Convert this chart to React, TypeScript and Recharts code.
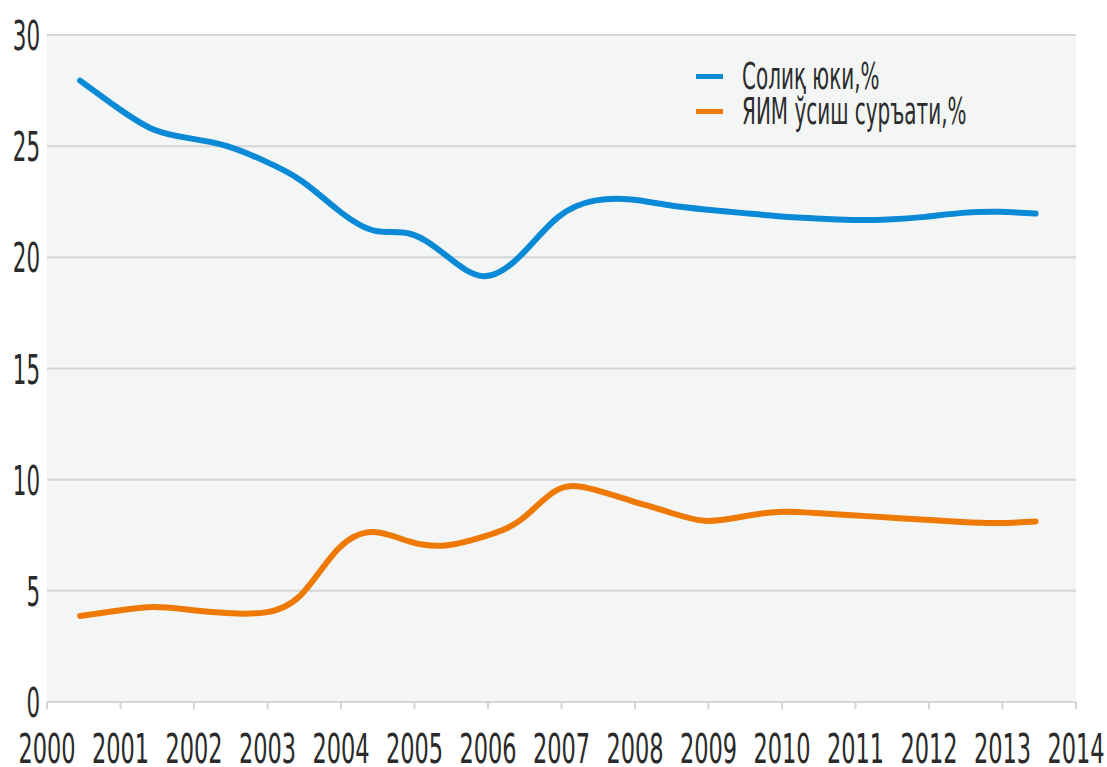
import React from 'react'
import { CartesianGrid, Line, LineChart, XAxis, YAxis } from 'recharts'

const yearPos = [
  2000.45, 2000.95, 2001.45, 2001.95, 2002.45, 2002.95, 2003.45, 2003.95, 2004.45,
  2004.95, 2005.45, 2005.95, 2006.45, 2006.95, 2007.45, 2007.95, 2008.45, 2008.95,
  2009.45, 2009.95, 2010.45, 2010.95, 2011.45, 2011.95, 2012.45, 2012.95, 2013.45,
]

// Солиқ юки, %
const taxBurden = [
  27.95, 26.75, 25.75, 25.35, 25.0, 24.35, 23.47, 22.15, 21.2,
  21.05, 20.03, 19.15, 20.1, 21.8, 22.55, 22.6, 22.35, 22.15,
  22.0, 21.85, 21.75, 21.68, 21.7, 21.82, 22.0, 22.05, 21.97,
]

// ЯИМ ўсиш суръати, %
const gdpGrowth = [
  3.87, 4.1, 4.27, 4.14, 4.0, 4.02, 4.8, 6.85, 7.65,
  7.2, 7.05, 7.45, 8.2, 9.55, 9.55, 9.05, 8.55, 8.15,
  8.33, 8.55, 8.5, 8.4, 8.3, 8.2, 8.1, 8.05, 8.12,
]

const yearTicks = [2000, 2001, 2002, 2003, 2004, 2005, 2006, 2007, 2008, 2009, 2010, 2011, 2012, 2013, 2014]
const valueTicks = [0, 5, 10, 15, 20, 25, 30]

const seriesNames = ['Солиқ юки,%', 'ЯИМ ўсиш суръати,%']
const colors = ['#0a8ad6', '#ee7a05']

const data = yearPos.map((x, i) => ({ x, tax: taxBurden[i], gdp: gdpGrowth[i] }))

const FONT = "'DejaVu Sans Condensed', 'DejaVu Sans', sans-serif"

const XTick = (props: any) => {
  const { x, y, payload } = props
  return (
    <g transform={`translate(${x},${y + 52}) scale(0.61,1)`}>
      <text textAnchor='middle' fontFamily={FONT} fontSize={41} fill='#2b2b2b'>
        {payload.value}
      </text>
    </g>
  )
}

const YTick = (props: any) => {
  const { y, payload } = props
  return (
    <g transform={`translate(40,${y + 15}) scale(0.58,1)`}>
      <text textAnchor='end' fontFamily={FONT} fontSize={41} fill='#2b2b2b'>
        {payload.value}
      </text>
    </g>
  )
}

const LegendBox = () => (
  <div style={{ position: 'absolute', left: 696, top: 59, width: 340, fontFamily: FONT, color: '#2b2b2b' }}>
    {seriesNames.map((name, i) => (
      <div key={name} style={{ display: 'flex', alignItems: 'center', height: 35 }}>
        <span style={{ display: 'inline-block', flex: '0 0 27px', height: 5, background: colors[i], marginRight: 19 }} />
        <span
          style={{
            fontSize: 37,
            lineHeight: '35px',
            display: 'inline-block',
            transform: 'scaleX(0.6)',
            transformOrigin: 'left center',
            whiteSpace: 'nowrap',
          }}
        >
          {name}
        </span>
      </div>
    ))}
  </div>
)

export default function App() {
  return (
    <div style={{ position: 'absolute', left: 0, top: 0, width: 1107, height: 767, background: '#fff' }}>
      <LineChart width={1107} height={767} data={data} margin={{ top: 35, right: 31, bottom: 35, left: 0 }}>
        <CartesianGrid vertical={false} fill='#f4f6f6' stroke='#d3d5d7' strokeWidth={2} />
        <XAxis
          dataKey='x'
          type='number'
          domain={[2000, 2014]}
          ticks={yearTicks}
          interval={0}
          allowDataOverflow
          height={30}
          axisLine={{ stroke: '#d3d5d7', strokeWidth: 2 }}
          tickLine={{ stroke: '#d3d5d7', strokeWidth: 2 }}
          tickSize={7}
          tick={<XTick />}
        />
        <YAxis
          width={47}
          domain={[0, 30]}
          ticks={valueTicks}
          interval={0}
          axisLine={false}
          tickLine={false}
          tick={<YTick />}
        />
        <Line
          dataKey='tax'
          name={seriesNames[0]}
          type='natural'
          stroke={colors[0]}
          strokeWidth={6}
          strokeLinecap='round'
          dot={false}
          isAnimationActive={false}
        />
        <Line
          dataKey='gdp'
          name={seriesNames[1]}
          type='natural'
          stroke={colors[1]}
          strokeWidth={6}
          strokeLinecap='round'
          dot={false}
          isAnimationActive={false}
        />
      </LineChart>
      <LegendBox />
    </div>
  )
}
